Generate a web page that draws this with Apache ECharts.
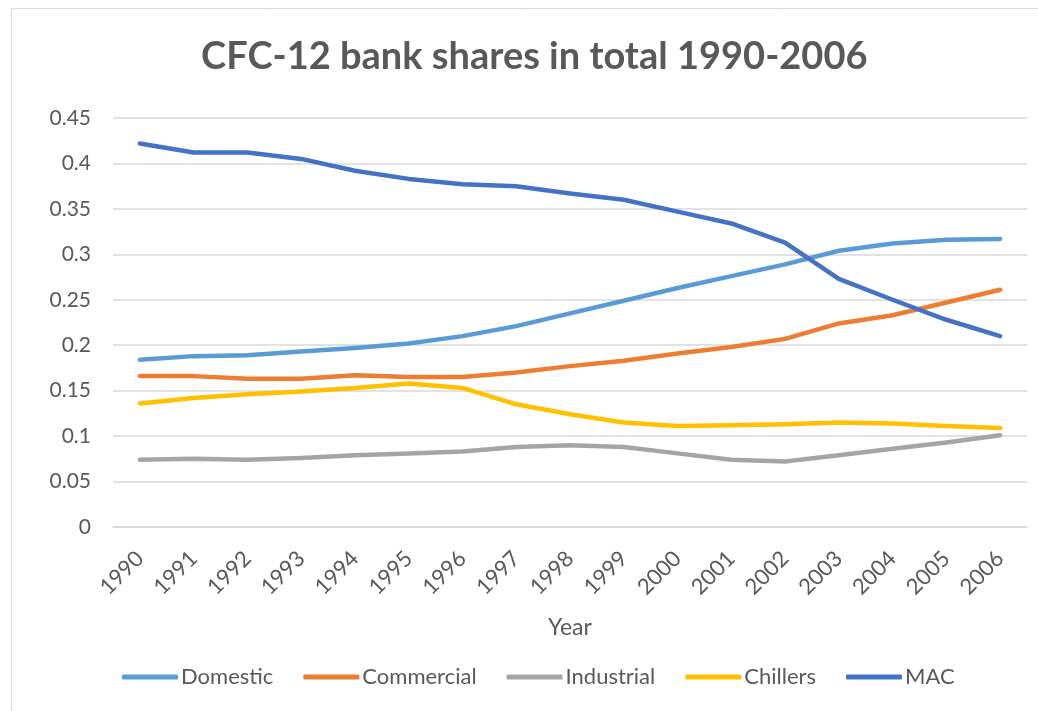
<!DOCTYPE html>
<html>
<head>
<meta charset="utf-8">
<script src="https://cdn.jsdelivr.net/npm/echarts@6/dist/echarts.min.js"></script>
<style>
html, body { margin: 0; padding: 0; background: #fff; }
#chart { width: 1038px; height: 711px; }
</style>
</head>
<body>
<div id="chart"></div>
<script>
// data
const years = ['1990', '1991', '1992', '1993', '1994', '1995', '1996', '1997', '1998',
    '1999', '2000', '2001', '2002', '2003', '2004', '2005', '2006'];
const domestic = [0.184, 0.188, 0.189, 0.193, 0.197, 0.202, 0.210, 0.221, 0.235, 0.249, 0.263, 0.276, 0.289, 0.304, 0.312, 0.316, 0.317];
const commercial = [0.166, 0.166, 0.163, 0.163, 0.167, 0.165, 0.165, 0.170, 0.177, 0.183, 0.191, 0.198, 0.207, 0.224, 0.233, 0.247, 0.261];
const industrial = [0.074, 0.075, 0.074, 0.076, 0.079, 0.081, 0.083, 0.088, 0.090, 0.088, 0.081, 0.074, 0.072, 0.079, 0.086, 0.093, 0.101];
const chillers = [0.136, 0.142, 0.146, 0.149, 0.153, 0.158, 0.153, 0.135, 0.124, 0.115, 0.111, 0.112, 0.113, 0.115, 0.114, 0.111, 0.109];
const mac = [0.422, 0.412, 0.412, 0.405, 0.392, 0.383, 0.377, 0.375, 0.367, 0.360, 0.347, 0.334, 0.313, 0.273, 0.250, 0.228, 0.210];

const seriesNames = ['Domestic', 'Commercial', 'Industrial', 'Chillers', 'MAC'];
const seriesData = [domestic, commercial, industrial, chillers, mac];
const colors = ['#5B9BD5', '#ED7D31', '#A5A5A5', '#FFC000', '#4472C4'];

const textColor = '#595959';
const font = 'Lato, "Open Sans", sans-serif';

const chart = echarts.init(document.getElementById('chart'));
const option = {
    animation: false,
    color: colors,
    textStyle: { fontFamily: font, color: textColor },
    title: {
        text: 'CFC-12 bank shares in total 1990-2006',
        left: 196,
        top: 33,
        textStyle: { fontFamily: font, fontSize: 38, fontWeight: 'bold', color: textColor }
    },
    graphic: [
        {
            type: 'rect',
            shape: { x: 11.5, y: 8.5, width: 1100, height: 800 },
            style: { fill: 'none', stroke: '#d9d9d9', lineWidth: 1 },
            silent: true
        }
    ],
    legend: {
        data: seriesNames,
        left: 117,
        top: 661,
        itemWidth: 56,
        itemHeight: 5,
        itemGap: 30,
        icon: 'roundRect',
        textStyle: { fontFamily: font, fontSize: 22, color: textColor, padding: [0, 0, 0, -2] }
    },
    grid: {
        left: 113,
        right: 11,
        top: 118,
        bottom: 184
    },
    xAxis: {
        type: 'category',
        data: years,
        boundaryGap: true,
        name: 'Year',
        nameLocation: 'middle',
        nameGap: 89,
        nameTextStyle: { fontFamily: font, fontSize: 23, color: textColor },
        axisLine: { lineStyle: { color: '#d9d9d9', width: 1.5 } },
        axisTick: { show: false },
        axisLabel: { rotate: 45, fontSize: 22, color: textColor, margin: 28, interval: 0 }
    },
    yAxis: {
        type: 'value',
        min: 0,
        max: 0.45,
        interval: 0.05,
        axisLine: { show: false },
        axisTick: { show: false },
        splitLine: { lineStyle: { color: '#d9d9d9', width: 1.5 } },
        axisLabel: {
            fontSize: 21,
            color: textColor,
            margin: 22,
            formatter: v => String(Math.round(v * 100) / 100)
        }
    },
    series: seriesNames.map((name, i) => ({
        name: name,
        type: 'line',
        data: seriesData[i],
        symbol: 'none',
        lineStyle: { width: 4.5, cap: 'round', join: 'round' }
    }))
};
chart.setOption(option);
</script>
</body>
</html>
